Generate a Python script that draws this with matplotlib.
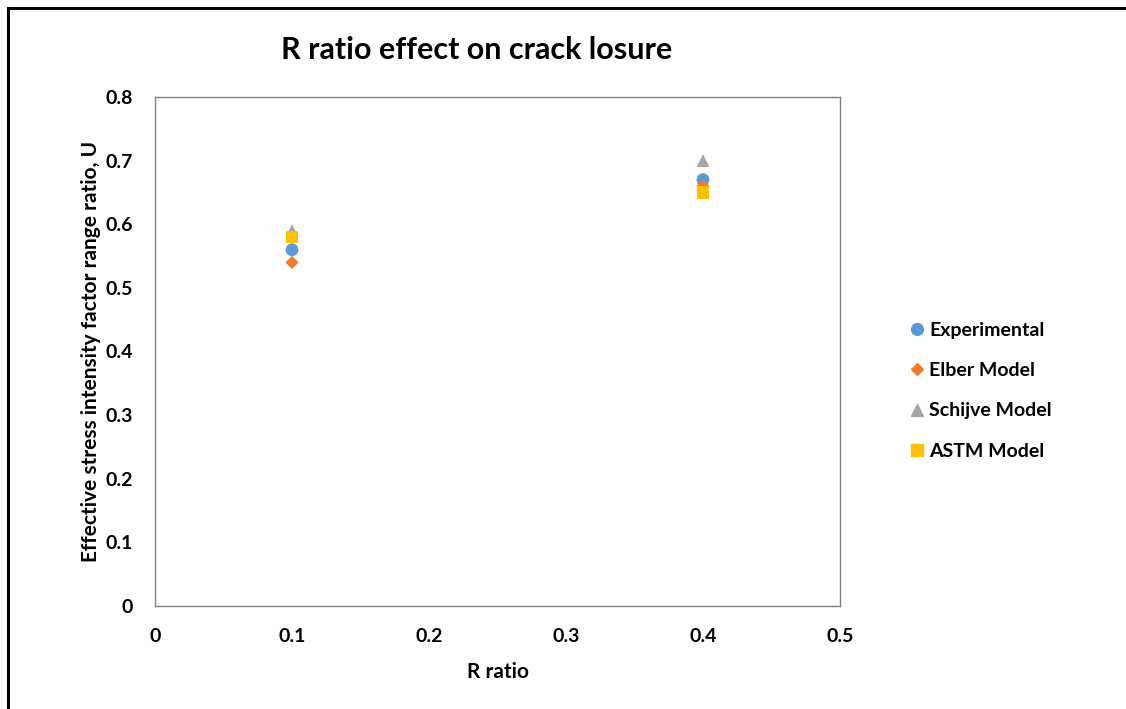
import matplotlib
matplotlib.use("Agg")
import matplotlib.pyplot as plt
from matplotlib.lines import Line2D

plt.rcParams['font.family'] = ['Lato', 'DejaVu Sans']
plt.rcParams['font.weight'] = 'bold'

# R ratio values and effective stress intensity factor range ratio U
r_ratio = [0.1, 0.4]
experimental = [0.56, 0.67]
elber = [0.54, 0.66]
schijve = [0.59, 0.70]
astm = [0.58, 0.65]

series_names = ["Experimental", "Elber Model", "Schijve Model", "ASTM Model"]
x_ticks = [0, 0.1, 0.2, 0.3, 0.4, 0.5]
y_ticks = [0, 0.1, 0.2, 0.3, 0.4, 0.5, 0.6, 0.7, 0.8]

W, H = 1126, 709
fig = plt.figure(figsize=(W / 100, H / 100), dpi=100)
ax = fig.add_axes([155 / W, 1 - 606 / H, (840 - 155) / W, (606 - 97) / H])

styles = [
    dict(marker='o', color='#5B9BD5', s=85),
    dict(marker='D', color='#ED7D31', s=45),
    dict(marker='^', color='#A5A5A5', s=85),
    dict(marker='s', color='#FFC000', s=85),
]
for vals, name, st in zip([experimental, elber, schijve, astm], series_names, styles):
    ax.scatter(r_ratio, vals, marker=st['marker'], s=st['s'], color=st['color'],
               edgecolors='none', label=name, zorder=3)

ax.set_xlim(0, 0.5)
ax.set_ylim(0, 0.8)
ax.set_xticks(x_ticks)
ax.set_xticklabels([f"{v:g}" for v in x_ticks])
ax.set_yticks(y_ticks)
ax.set_yticklabels([f"{v:g}" for v in y_ticks])
ax.tick_params(axis='both', length=0, labelsize=14, colors='#000000')
ax.tick_params(axis='x', pad=16)
ax.tick_params(axis='y', pad=16)
for lbl in ax.get_xticklabels() + ax.get_yticklabels():
    lbl.set_fontweight('bold')
for sp in ax.spines.values():
    sp.set_color('#7f7f7f')
    sp.set_linewidth(1.0)

ax.set_xlabel("R ratio", fontsize=15, fontweight='bold', labelpad=12)
ax.set_ylabel("Effective stress intensity factor range ratio, U", fontsize=15,
              fontweight='bold', labelpad=3)

fig.text(477 / W, 1 - 50 / H, "R ratio effect on crack losure", fontsize=22,
         fontweight='bold', ha='center', va='center')

handles = [
    Line2D([], [], marker='o', linestyle='none', color='#5B9BD5', markersize=8.5),
    Line2D([], [], marker='D', linestyle='none', color='#ED7D31', markersize=6.5),
    Line2D([], [], marker='^', linestyle='none', color='#A5A5A5', markersize=8.5),
    Line2D([], [], marker='s', linestyle='none', color='#FFC000', markersize=8.5),
]
leg = fig.legend(handles, series_names, loc='upper left',
                 bbox_to_anchor=(902 / W, 1 - 314 / H), frameon=False,
                 fontsize=14, handlelength=0.7, handletextpad=0.3,
                 labelspacing=1.2, borderaxespad=0)
for t in leg.get_texts():
    t.set_fontweight('bold')

# outer frame on the left and top edges
fig.add_artist(Line2D([8 / W, 8 / W], [0, 1 - 8 / H], transform=fig.transFigure,
                      color='black', linewidth=2.2))
fig.add_artist(Line2D([8 / W, 1], [1 - 8 / H, 1 - 8 / H], transform=fig.transFigure,
                      color='black', linewidth=2.2))

fig.savefig("out.png", dpi=100)
